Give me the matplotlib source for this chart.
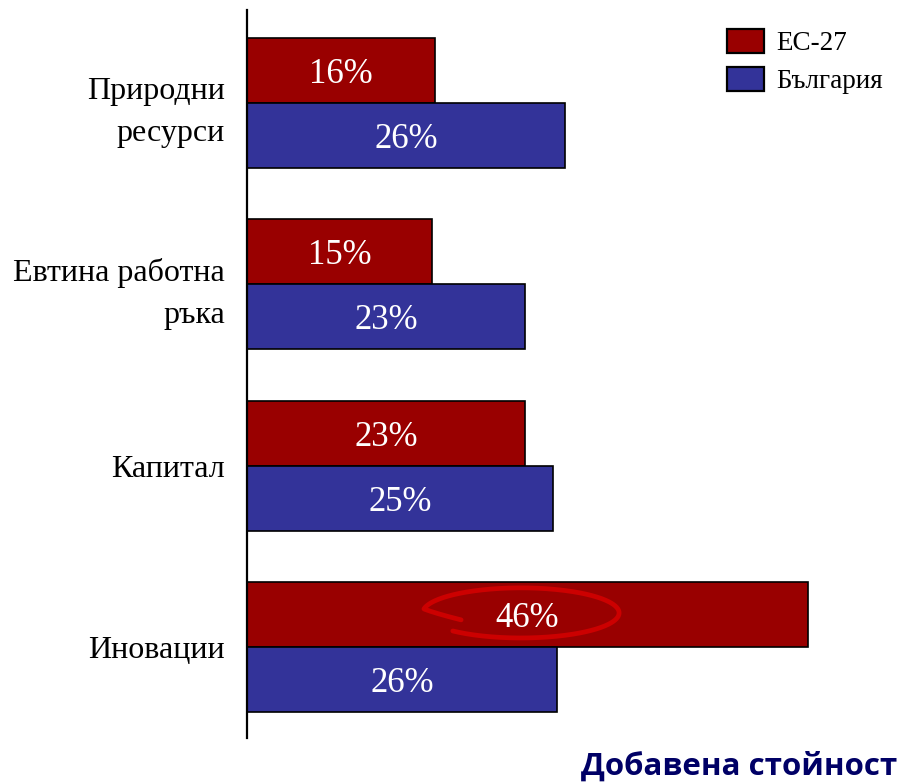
import numpy as np
import matplotlib.pyplot as plt

# data
categories = ['Природни\nресурси', 'Евтина работна\nръка', 'Капитал', 'Иновации']
eu27 = [15.4, 15.2, 22.8, 46.0]
bg = [26.1, 22.8, 25.1, 25.4]
eu27_labels = ['16%', '15%', '23%', '46%']
bg_labels = ['26%', '23%', '25%', '26%']
series_names = ['ЕС-27', 'България']

red = '#990000'
blue = '#333399'
serif = ['Liberation Serif', 'DejaVu Serif']

fig = plt.figure(figsize=(9.02, 7.84), dpi=100)
ax = fig.add_axes([247/902, 46/784, 600/902, 728/784])

y = np.arange(len(categories))
h = 0.358
b1 = ax.barh(y - h/2, eu27, height=h, color=red, edgecolor='black', linewidth=1.2, label=series_names[0])
b2 = ax.barh(y + h/2, bg, height=h, color=blue, edgecolor='black', linewidth=1.2, label=series_names[1])

for bars, labs in [(b1, eu27_labels), (b2, bg_labels)]:
    for r, lab in zip(bars, labs):
        ax.annotate(lab, (r.get_width()/2, r.get_y() + r.get_height()/2),
                    xytext=(0, -9), textcoords='offset points', color='white',
                    ha='center', va='baseline', fontsize=25, family=serif)

# hand drawn ellipse round the biggest value
i = int(np.argmax(eu27))
cx, cy = eu27[i]/2 - 0.55, y[i] - h/2 - 0.01
t = np.linspace(2.86, 8.62, 300)
a = np.where(t < 3.3, 5.1 + (8.05 - 5.1) * (t - 2.86) / 0.44, 8.05)
b = 0.138
ax.plot(cx + a*np.cos(t), cy + b*np.sin(t), color='#cc0000', lw=3.4, solid_capstyle='round')

ax.set_xlim(0, 600/12.2)
ax.set_ylim(3.5, -0.51)
ax.set_yticks(y)
ax.set_yticklabels(categories, fontsize=23, family=serif, ha='right',
                   multialignment='right', linespacing=1.6)
ax.tick_params(axis='y', length=0, pad=16)
ax.set_xticks([])
for s in ['top', 'right', 'bottom']:
    ax.spines[s].set_visible(False)
ax.spines['left'].set_linewidth(1.6)

leg = ax.legend(loc='upper right', bbox_to_anchor=(1.1, 1.008), frameon=False,
                prop={'family': serif, 'size': 19.5}, handlelength=1.35, handleheight=1.0,
                handletextpad=0.45, labelspacing=0.4)
for p in leg.get_patches():
    p.set_linewidth(1.6)

fig.text(897/902, 2/784, 'Добавена стойност', ha='right', va='bottom', fontsize=22.5,
         fontweight='bold', color='#000066', family=['Open Sans', 'DejaVu Sans'])

fig.savefig('out.png', dpi=100)
